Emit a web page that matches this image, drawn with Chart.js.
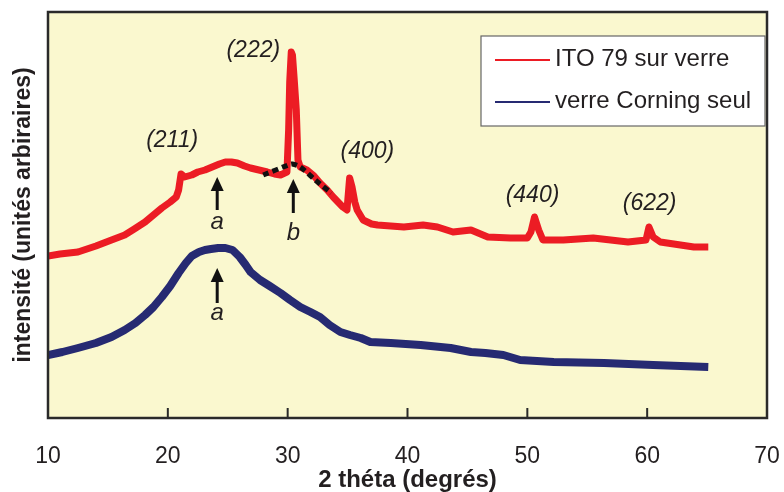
<!DOCTYPE html>
<html><head><meta charset="utf-8">
<script src="https://cdn.jsdelivr.net/npm/chart.js@4/dist/chart.umd.min.js"></script>
<style>html,body{margin:0;padding:0;background:#fff;}canvas{display:block;}</style>
</head><body>
<canvas id="c" width="784" height="492"></canvas>
<script>
// ---- data (2θ in degrees, intensity in arbitrary units) ----
const xTicks = [10, 20, 30, 40, 50, 60, 70];
const seriesLabels = ['ITO 79 sur verre', 'verre Corning seul'];

const itoTheta = [10.0, 11.0, 12.5, 14.0, 15.3, 16.4, 17.2, 18.1, 18.8, 19.5, 20.2, 20.7, 20.9, 21.1, 21.4, 22.0, 22.5, 23.1, 23.7, 24.3, 24.8, 25.3, 25.8, 26.4, 26.9, 27.6, 28.3, 28.9, 29.4, 29.94, 30.08, 30.17, 30.3, 30.4, 30.55, 30.72, 30.86, 31.05, 31.6, 32.2, 32.7, 33.3, 33.8, 34.2, 34.6, 34.95, 35.1, 35.17, 35.37, 35.6, 35.8, 36.3, 37.0, 37.5, 39.7, 41.3, 42.5, 43.8, 45.3, 46.7, 48.6, 50.0, 50.3, 50.6, 50.95, 51.3, 53.0, 55.5, 58.4, 59.9, 60.15, 60.5, 61.1, 63.9, 65.1];
const itoInt   = [162, 164, 166, 172, 178, 183, 189, 196, 203, 210, 216, 221, 228, 244, 241, 243, 246, 248, 251, 254, 256, 256, 255, 252, 250, 248, 246, 244, 243, 246, 288, 336, 366, 363, 338, 308, 258, 251, 248, 242, 235, 228, 221, 216, 211, 208, 230, 240, 231, 216, 208, 198, 194, 193, 191, 193, 191, 186, 188, 181, 180, 180, 186, 201, 188, 178, 178, 180, 176, 178, 191, 181, 176, 171, 171];

const glassTheta = [10.0, 11.2, 12.5, 14.0, 15.3, 16.4, 17.3, 18.1, 18.8, 19.5, 20.2, 20.9, 21.5, 22.0, 22.6, 23.1, 23.6, 24.2, 24.8, 25.4, 26.0, 26.5, 26.9, 27.7, 28.5, 29.4, 30.2, 31.05, 31.9, 32.7, 33.5, 34.4, 35.2, 36.1, 36.9, 38.6, 41.1, 43.6, 45.3, 46.5, 48.0, 49.4, 50.8, 52.2, 56.4, 60.5, 65.1];
const glassInt   = [63, 66, 70, 75, 81, 88, 95, 103, 111, 121, 132, 145, 155, 162, 166, 168, 169, 170, 170, 168, 161, 153, 146, 138, 132, 125, 118, 111, 106, 101, 93, 86, 83, 80, 76, 75, 73, 70, 66, 65, 63, 58, 57, 56, 55, 53, 51];

// dotted amorphous background under the (222) peak
const bgTheta = [27.96, 30.05, 30.38, 31.05, 32.3, 33.64];
const bgInt   = [243, 253, 254, 251, 238, 225];

// annotations (data coordinates)
const peakLabels = ['(211)', '(222)', '(400)', '(440)', '(622)'];
const peakTheta  = [20.36, 27.13, 36.65, 50.43, 60.21];
const peakInt    = [277, 367, 266, 222, 214];
const arrowLabels = ['a', 'b', 'a'];
const arrowTheta  = [24.12, 30.47, 24.12];
const arrowTip    = [241, 239, 150];
const arrowBase   = [208, 205, 115];
const arrowTextAt = [196, 185, 105];

const FONT = 'Liberation Sans, Arial, sans-serif';
const INK = '#231F20';
const RED = '#EC1C24';
const BLUE = '#262A72';

const toXY = (xs, ys) => xs.map((x, i) => ({x, y: ys[i]}));

const decor = {
  id: 'decor',
  beforeDraw(chart) {
    const {ctx, chartArea: a} = chart;
    ctx.save();
    ctx.fillStyle = '#FAF8CF';
    ctx.fillRect(a.left, a.top, a.right - a.left, a.bottom - a.top);
    ctx.restore();
  },
  afterDatasetsDraw(chart) {
    const {ctx, chartArea: a} = chart;
    const xs = chart.scales.x, ys = chart.scales.y;
    ctx.save();
    ctx.strokeStyle = '#2a2a2a';
    ctx.lineWidth = 2.5;
    ctx.strokeRect(a.left, a.top, a.right - a.left, a.bottom - a.top);
    ctx.lineWidth = 2;
    xTicks.slice(1, -1).forEach(v => {
      const x = xs.getPixelForValue(v);
      ctx.beginPath(); ctx.moveTo(x, a.bottom); ctx.lineTo(x, a.bottom - 10); ctx.stroke();
    });
    ctx.fillStyle = INK;
    ctx.font = 'italic 23px ' + FONT;
    ctx.textAlign = 'center'; ctx.textBaseline = 'middle';
    peakLabels.forEach((t, i) => ctx.fillText(t, xs.getPixelForValue(peakTheta[i]), ys.getPixelForValue(peakInt[i])));
    ctx.strokeStyle = '#111'; ctx.fillStyle = '#111'; ctx.lineWidth = 3;
    arrowLabels.forEach((t, i) => {
      const x = xs.getPixelForValue(arrowTheta[i]);
      const yt = ys.getPixelForValue(arrowTip[i]);
      const yb = ys.getPixelForValue(arrowBase[i]);
      ctx.beginPath(); ctx.moveTo(x, yt + 8); ctx.lineTo(x, yb); ctx.stroke();
      ctx.beginPath(); ctx.moveTo(x, yt); ctx.lineTo(x - 6.5, yt + 14); ctx.lineTo(x + 6.5, yt + 14); ctx.closePath(); ctx.fill();
      ctx.fillStyle = INK;
      ctx.font = 'italic 24px ' + FONT;
      ctx.fillText(t, x, ys.getPixelForValue(arrowTextAt[i]));
      ctx.fillStyle = '#111';
    });
    const L = a.right - 286, T = a.top + 24, W = 284, H = 90;
    ctx.fillStyle = '#fff';
    ctx.fillRect(L, T, W, H);
    ctx.strokeStyle = '#666'; ctx.lineWidth = 1.2;
    ctx.strokeRect(L, T, W, H);
    const cols = [RED, BLUE];
    const rowsY = [T + 24, T + 66];
    ctx.textAlign = 'left'; ctx.textBaseline = 'alphabetic';
    ctx.font = '24px ' + FONT;
    seriesLabels.forEach((t, i) => {
      ctx.strokeStyle = cols[i]; ctx.lineWidth = 2;
      ctx.beginPath(); ctx.moveTo(L + 14, rowsY[i]); ctx.lineTo(L + 69, rowsY[i]); ctx.stroke();
      ctx.fillStyle = INK;
      ctx.fillText(t, L + 74, rowsY[i] + 6);
    });
    ctx.restore();
  }
};

new Chart(document.getElementById('c'), {
  type: 'line',
  data: {
    datasets: [
      {label: 'fond', data: toXY(bgTheta, bgInt), borderColor: '#111', borderWidth: 5, borderDash: [6, 4], pointRadius: 0, fill: false, tension: 0.3, order: 0},
      {label: seriesLabels[0], data: toXY(itoTheta, itoInt), borderColor: RED, borderWidth: 7, borderJoinStyle: 'round', pointRadius: 0, fill: false, tension: 0, order: 1},
      {label: seriesLabels[1], data: toXY(glassTheta, glassInt), borderColor: BLUE, borderWidth: 8, borderJoinStyle: 'round', pointRadius: 0, fill: false, tension: 0, order: 2}
    ]
  },
  options: {
    responsive: false, animation: false, devicePixelRatio: 1,
    layout: {padding: {left: 0, right: 17, top: 12, bottom: 0}},
    plugins: {legend: {display: false}, tooltip: {enabled: false}},
    scales: {
      x: {
        type: 'linear', min: 10, max: 70,
        afterBuildTicks: s => { s.ticks = xTicks.map(v => ({value: v})); },
        afterFit: s => { s.height = 74; s.paddingLeft = 0; s.paddingRight = 0; },
        grid: {display: false, drawTicks: false},
        border: {display: false},
        ticks: {padding: 25, autoSkip: false, maxRotation: 0, color: INK, font: {family: FONT, size: 23}},
        title: {display: true, text: '2 théta (degrés)', color: INK, padding: {top: 0, bottom: 0}, font: {family: FONT, size: 24, weight: 'bold', lineHeight: 1.0}}
      },
      y: {
        min: 0, max: 406,
        afterFit: s => { s.width = 48; },
        grid: {display: false, drawTicks: false},
        border: {display: false},
        ticks: {display: false},
        title: {display: true, text: 'intensité (unités arbiraires)', color: INK, padding: {top: 10, bottom: 0}, font: {family: FONT, size: 23, weight: 'bold'}}
      }
    }
  },
  plugins: [decor]
});
</script>
</body></html>
